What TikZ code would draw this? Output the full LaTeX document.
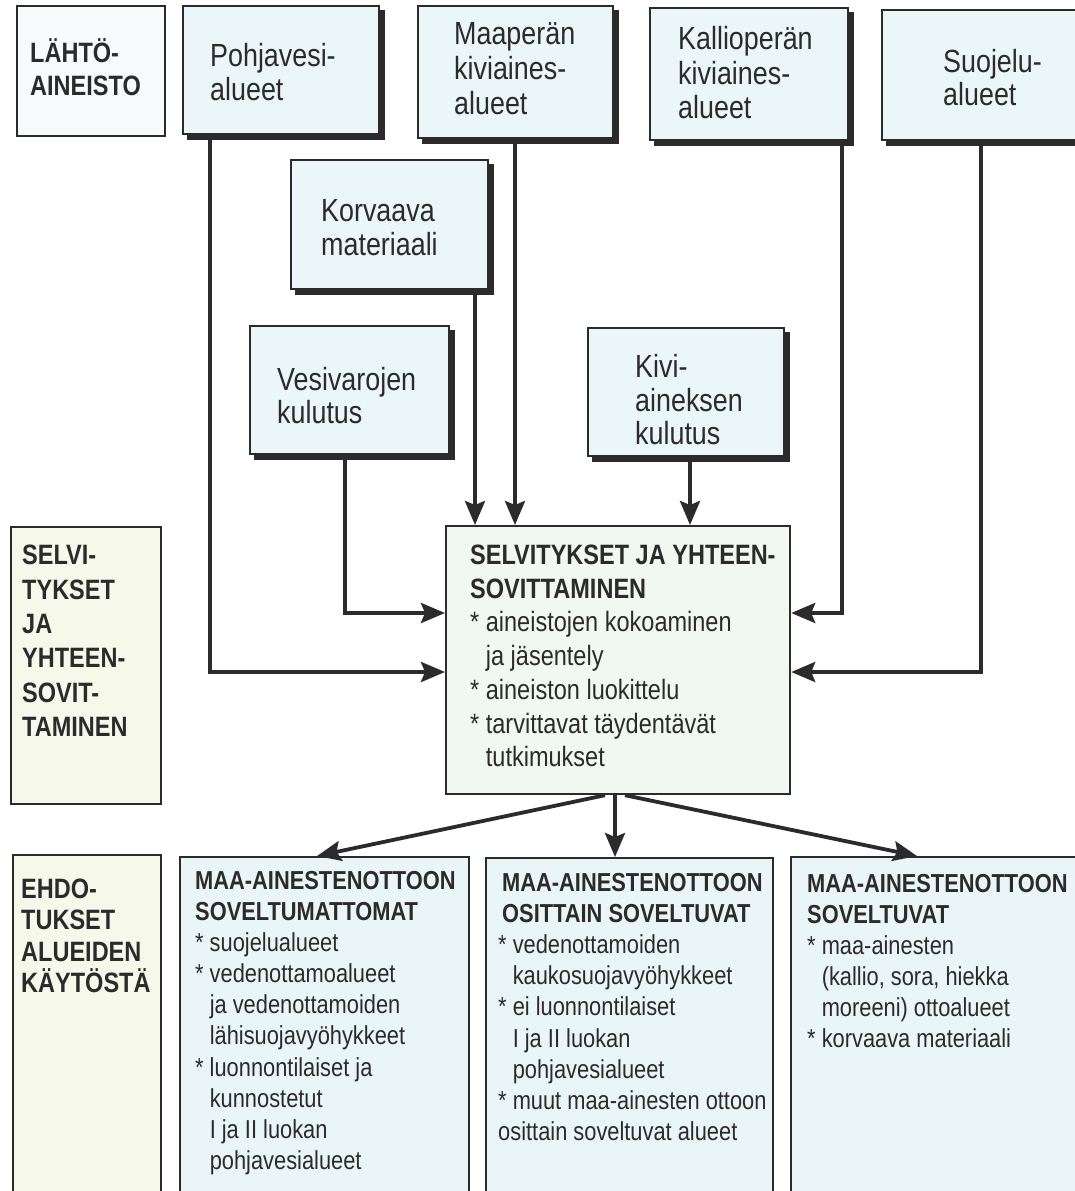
\documentclass[tikz,border=0pt]{standalone}
\usepackage{fontspec}
\setmainfont{Liberation Sans}[FakeStretch=0.84]
\usetikzlibrary{arrows.meta,calc}
\definecolor{ink}{HTML}{2B2B2B}
\definecolor{topfill}{HTML}{EAF6F7}
\definecolor{lahfill}{HTML}{F8FBFB}
\definecolor{cenfill}{HTML}{F0F8F1}
\definecolor{sidefill}{HTML}{F6F9EA}
\definecolor{botfill}{HTML}{E9F5F6}
\newcommand\bulind{\phantom{*\ }}
\begin{document}
\begin{tikzpicture}[x=1pt,y=-1pt,
  box/.style={draw=ink, line width=2.2pt, fill=topfill, rectangle, inner sep=0pt, anchor=north west},
  shbox/.style={box, preaction={fill=ink, draw=ink, line width=2.2pt, transform canvas={shift={(4.5pt,-4.5pt)}}}},
  conn/.style={draw=ink, line width=3.8pt, -{Stealth[length=24pt,width=20pt,inset=4pt]}},
  txt/.style={anchor=west, align=left, inner sep=0pt, text=ink},
  toptxt/.style={txt, font=\fontsize{32}{34}\selectfont},
  sidetxt/.style={txt, font=\bfseries\fontsize{28}{33}\selectfont},
  centxt/.style={txt, font=\fontsize{28}{33.7}\selectfont},
  bottxt/.style={txt, font=\fontsize{26}{31.1}\selectfont}
]
\useasboundingbox (0,0) rectangle (1075,1191);
\fill[white] (0,0) rectangle (1075,1191);
\clip (0,0) rectangle (1075,1191);

% top row
\node[box, fill=lahfill, minimum width=148, minimum height=130] (lah) at (16,5) {};
\node[shbox, minimum width=196, minimum height=128] (pohja) at (182,5) {};
\node[shbox, minimum width=195, minimum height=132] (maap) at (417,5) {};
\node[shbox, minimum width=198, minimum height=132] (kall) at (649,7) {};
\node[shbox, minimum width=210, minimum height=130] (suo) at (881,9) {};
% middle sources
\node[shbox, minimum width=197, minimum height=129] (korv) at (290,159) {};
\node[shbox, minimum width=199, minimum height=128] (vesi) at (249,325) {};
\node[shbox, minimum width=196, minimum height=128] (kivi) at (587,327) {};
% central row
\node[box, fill=sidefill, minimum width=150, minimum height=277] (selv) at (10,526) {};
\node[box, fill=cenfill, minimum width=344, minimum height=268] (cent) at (445,525) {};
% bottom row
\node[box, fill=sidefill, minimum width=148, minimum height=400] (ehdo) at (12,854) {};
\node[box, fill=botfill, minimum width=289, minimum height=400] (b1) at (179,856) {};
\node[box, fill=botfill, minimum width=287, minimum height=400] (b2) at (485,857) {};
\node[box, fill=botfill, minimum width=300, minimum height=400] (b3) at (790,856) {};

% texts
\node[sidetxt] (lah-t) at (30,67) {LÄHTÖ-\\AINEISTO};
\node[toptxt] (pohja-t) at (210,72) {Pohjavesi-\\alueet};
\node[toptxt, font=\fontsize{32}{35}\selectfont] (maap-t) at (454,69) {Maaperän\\kiviaines-\\alueet};
\node[toptxt, font=\fontsize{32}{34.5}\selectfont] (kall-t) at (678,73) {Kallioperän\\kiviaines-\\alueet};
\node[toptxt, font=\fontsize{32}{33}\selectfont] (suo-t) at (943,78) {Suojelu-\\alueet};
\node[toptxt, font=\fontsize{32}{34}\selectfont] (korv-t) at (321,228) {Korvaava\\materiaali};
\node[toptxt, font=\fontsize{32}{33}\selectfont] (vesi-t) at (277,396) {Vesivarojen\\kulutus};
\node[toptxt, font=\fontsize{32}{33.5}\selectfont] (kivi-t) at (635,400) {Kivi-\\aineksen\\kulutus};

\node[sidetxt, font=\bfseries\fontsize{28}{34.4}\selectfont] (selv-t) at (22,641) {SELVI-\\TYKSET\\JA\\YHTEEN-\\SOVIT-\\TAMINEN};
\node[centxt] (cent-t) at (470,656) {\textbf{SELVITYKSET JA YHTEEN-}\\\textbf{SOVITTAMINEN}\\* aineistojen kokoaminen\\\bulind ja jäsentely\\* aineiston luokittelu\\* tarvittavat täydentävät\\\bulind tutkimukset};

\node[sidetxt, font=\bfseries\fontsize{28}{31.4}\selectfont] (ehdo-t) at (21,936) {EHDO-\\TUKSET\\ALUEIDEN\\KÄYTÖSTÄ};
\node[bottxt] (b1-t) at (195,1023) {\textbf{MAA-AINESTENOTTOON}\\\textbf{SOVELTUMATTOMAT}\\* suojelualueet\\* vedenottamoalueet\\\bulind ja vedenottamoiden\\\bulind lähisuojavyöhykkeet\\* luonnontilaiset ja\\\bulind kunnostetut\\\bulind I ja II luokan\\\bulind pohjavesialueet};
\node[bottxt] (b2-t) at (498,1007) {\hspace*{4pt}\textbf{MAA-AINESTENOTTOON}\\\hspace*{4pt}\textbf{OSITTAIN SOVELTUVAT}\\* vedenottamoiden\\\bulind kaukosuojavyöhykkeet\\* ei luonnontilaiset\\\bulind I ja II luokan\\\bulind pohjavesialueet\\* muut maa-ainesten ottoon\\osittain soveltuvat alueet};
\node[bottxt] (b3-t) at (807,961) {\textbf{MAA-AINESTENOTTOON}\\\textbf{SOVELTUVAT}\\* maa-ainesten\\\bulind (kallio, sora, hiekka\\\bulind moreeni) ottoalueet\\* korvaava materiaali};

% connector start points
\coordinate (pohjaOut) at ($(pohja.south west)+(28,0)$);
\coordinate (vesiOut) at ($(vesi.south west)+(96,0)$);
\coordinate (korvOut) at ($(korv.south west)+(185,0)$);
\coordinate (maapOut) at ($(maap.south west)+(98,0)$);
\coordinate (kiviOut) at ($(kivi.south west)+(103,0)$);
\coordinate (kallOut) at ($(kall.south west)+(193,0)$);
\coordinate (suoOut) at ($(suo.south west)+(100,0)$);
\coordinate (centL) at ($(cent.south west)+(160,0)$);
\coordinate (centM) at ($(cent.south west)+(170,0)$);
\coordinate (centR) at ($(cent.south west)+(180,0)$);

\draw[conn] (pohjaOut) |- ($(cent.north west)+(0,147)$);
\draw[conn] (vesiOut) |- ($(cent.north west)+(0,88)$);
\draw[conn] (korvOut) -- (korvOut |- cent.north);
\draw[conn] (maapOut) -- (maapOut |- cent.north);
\draw[conn] (kiviOut) -- (kiviOut |- cent.north);
\draw[conn] (kallOut) |- ($(cent.north east)+(0,88)$);
\draw[conn] (suoOut) |- ($(cent.north east)+(0,147)$);
\draw[conn] (centL) -- ($(b1.north west)+(138,0)$);
\draw[conn] (centM) -- (centM |- b2.north);
\draw[conn] (centR) -- ($(b3.north west)+(127,0)$);
\end{tikzpicture}
\end{document}
